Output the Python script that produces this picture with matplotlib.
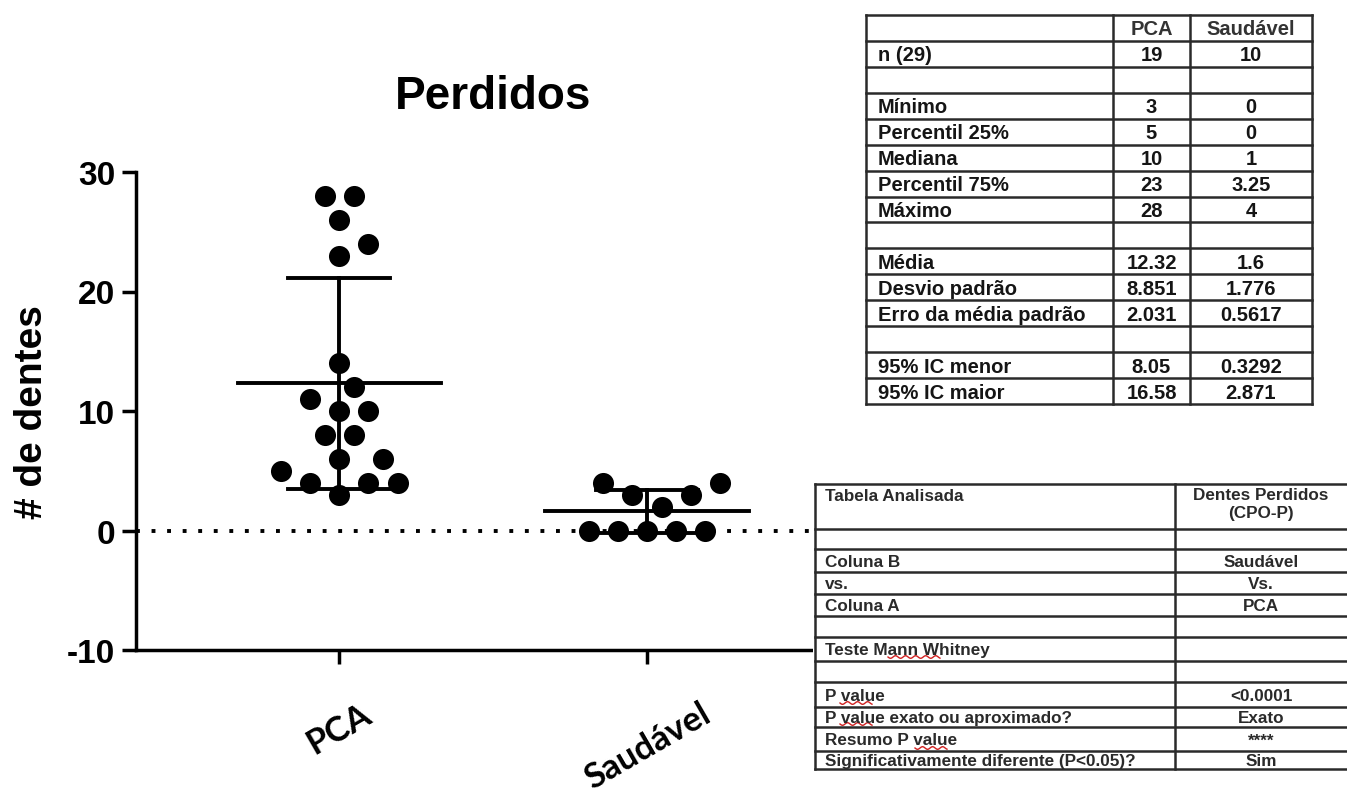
import numpy as np
import matplotlib
matplotlib.use("Agg")
import matplotlib.pyplot as plt

plt.rcParams['font.family'] = ['Liberation Sans', 'DejaVu Sans']

# --------------------------
# data
groups = ['PCA', 'Saudável']
pca_values = [28, 28, 26, 24, 23, 14, 12, 11, 10, 10, 8, 8, 6, 6, 5, 4, 4, 4, 3]
saudavel_values = [4, 4, 3, 3, 2, 0, 0, 0, 0, 0]
y_ticks = [-10, 0, 10, 20, 30]

stats_header = ['', 'PCA', 'Saudável']
stats_labels = ['n (29)', '', 'Mínimo', 'Percentil 25%', 'Mediana', 'Percentil 75%', 'Máximo', '',
                'Média', 'Desvio padrão', 'Erro da média padrão', '', '95% IC menor', '95% IC maior']
stats_pca = ['19', '', '3', '5', '10', '23', '28', '', '12.32', '8.851', '2.031', '', '8.05', '16.58']
stats_saudavel = ['10', '', '0', '0', '1', '3.25', '4', '', '1.6', '1.776', '0.5617', '', '0.3292', '2.871']

test_labels = ['Tabela Analisada', '', 'Coluna B', 'vs.', 'Coluna A', '', 'Teste Mann Whitney', '',
               'P value', 'P value exato ou aproximado?', 'Resumo P value',
               'Significativamente diferente (P<0.05)?']
test_values = ['Dentes Perdidos\n(CPO-P)', '', 'Saudável', 'Vs.', 'PCA', '', '', '',
               '<0.0001', 'Exato', '****', 'Sim']

W, H = 1347, 803


def swarm_offsets(values, px_x, px_y, slot_px=14.6, min_d=26.0):
    # simple beeswarm: put each point in the nearest free slot
    order = np.argsort(values, kind='stable')
    placed = []
    offs = np.zeros(len(values))
    cands = [0]
    for j in range(1, 20):
        cands += [j, -j]
    for i in order:
        y = values[i] * px_y
        for k in cands:
            x = k * slot_px
            if all((x - px) ** 2 + (y - py) ** 2 >= min_d ** 2 for px, py in placed):
                break
        placed.append((x, y))
        offs[i] = x / px_x
    return offs


fig = plt.figure(figsize=(W / 100, H / 100), dpi=100)

# main scatter axes
ax_l, ax_r, ax_t, ax_b = 136, 812, 173, 651
ax = fig.add_axes([ax_l / W, 1 - ax_b / H, (ax_r - ax_l) / W, (ax_b - ax_t) / H])
xlim = (-0.66, (ax_r - 339) / 308.0)
ylim = (-10, 30)
ax.set_xlim(xlim)
ax.set_ylim(ylim)
px_x = (ax_r - ax_l) / (xlim[1] - xlim[0])
px_y = (ax_b - ax_t) / (ylim[1] - ylim[0])

ax.axhline(0, color='black', lw=2.8, ls=(0, (1, 3.0)), zorder=1)

for i, vals in enumerate([pca_values, saudavel_values]):
    vals = np.array(vals, dtype=float)
    offs = swarm_offsets(vals, px_x, px_y)
    ax.scatter(i + offs, vals, s=230, color='black', zorder=3, linewidths=0)
    m = vals.mean()
    sd = vals.std(ddof=1)
    ax.plot([i - 0.33, i + 0.33], [m, m], color='black', lw=2.8, zorder=2)
    ax.plot([i, i], [m - sd, m + sd], color='black', lw=2.8, zorder=2)
    for yy in (m - sd, m + sd):
        ax.plot([i - 0.165, i + 0.165], [yy, yy], color='black', lw=2.8, zorder=2)

ax.spines['top'].set_visible(False)
ax.spines['right'].set_visible(False)
for sp in ('left', 'bottom'):
    ax.spines[sp].set_linewidth(2.5)
ax.set_yticks(y_ticks)
ax.set_yticklabels([str(t) for t in y_ticks], fontsize=24, fontweight='bold')
ax.set_xticks(range(len(groups)))
ax.set_xticklabels(groups, fontsize=25, fontweight='bold', rotation=30, family=['Lato', 'DejaVu Sans'])
ax.tick_params(axis='both', width=2.5, length=10)
ax.tick_params(axis='x', pad=24)
ax.tick_params(axis='y', pad=5)
ax.set_ylabel('# de dentes', fontsize=28, fontweight='bold', labelpad=12)
fig.text(493 / W, 1 - 97 / H, 'Perdidos', fontsize=33, fontweight='bold', ha='center', va='center')


def table_axes(x0, y0, x1, y1):
    t = fig.add_axes([x0 / W, 1 - y1 / H, (x1 - x0) / W, (y1 - y0) / H])
    t.set_xlim(x0, x1)
    t.set_ylim(y1, y0)
    t.axis('off')
    t.add_patch(plt.Rectangle((x0, y0), x1 - x0, y1 - y0, facecolor='white', edgecolor='none', zorder=0))
    return t


# statistics table (top right)
tx0, tx1, tx2, tx3 = 866, 1113, 1190, 1312
ty0, ty1 = 16, 405
t1 = table_axes(tx0 - 2, ty0 - 2, tx3 + 2, ty1 + 2)
nrows = len(stats_labels) + 1
rh = (ty1 - ty0) / nrows
lc = '#2a2a2a'
for r in range(nrows + 1):
    t1.plot([tx0, tx3], [ty0 + r * rh] * 2, color=lc, lw=1.8)
for xx in (tx0, tx1, tx2, tx3):
    t1.plot([xx, xx], [ty0, ty1], color=lc, lw=1.8)
rows = [stats_header] + [[a, b, c] for a, b, c in zip(stats_labels, stats_pca, stats_saudavel)]
for r, row in enumerate(rows):
    yc = ty0 + (r + 0.5) * rh + 1
    kw = dict(fontsize=14.5, fontweight='bold', va='center', color='#151515')
    if r == 0:
        kw['color'] = '#333333'
    t1.text(tx0 + 12, yc, row[0], ha='left', **kw)
    t1.text((tx1 + tx2) / 2, yc, row[1], ha='center', **kw)
    t1.text((tx2 + tx3) / 2, yc, row[2], ha='center', **kw)

# test table (bottom right)
bx0, bx1, bx2 = 815, 1175, 1347
row_edges = [485, 530, 550, 573, 595, 617, 638, 662, 683, 708, 728, 752, 770]
t2 = table_axes(bx0 - 2, row_edges[0] - 2, W, row_edges[-1] + 4)
for yy in row_edges:
    t2.plot([bx0, bx2], [yy, yy], color=lc, lw=1.8)
for xx in (bx0, bx1):
    t2.plot([xx, xx], [row_edges[0], row_edges[-1]], color=lc, lw=1.8)
for r, (lab, val) in enumerate(zip(test_labels, test_values)):
    ya, yb = row_edges[r], row_edges[r + 1]
    kw = dict(fontsize=12.3, fontweight='bold', color='#2a2a2a')
    if r == 0:
        t2.text(bx0 + 10, ya + 4, lab, ha='left', va='top', **kw)
        t2.text((bx1 + bx2) / 2, ya + 3, val, ha='center', va='top', linespacing=1.25, **kw)
        continue
    yc = (ya + yb) / 2 + 1
    t2.text(bx0 + 10, yc, lab, ha='left', va='center', **kw)
    t2.text((bx1 + bx2) / 2, yc, val, ha='center', va='center', **kw)

# red spell-check squiggles under "Whitney" and "value"
squiggles = [(888, 940, 658), (840, 872, 704), (840, 872, 725), (915, 947, 749)]
for xa, xb, yy in squiggles:
    xs = np.linspace(xa, xb, 60)
    t2.plot(xs, yy + 1.3 * np.sin((xs - xa) / 1.6), color='#d02020', lw=1.0)

fig.savefig('out.png', dpi=100)
